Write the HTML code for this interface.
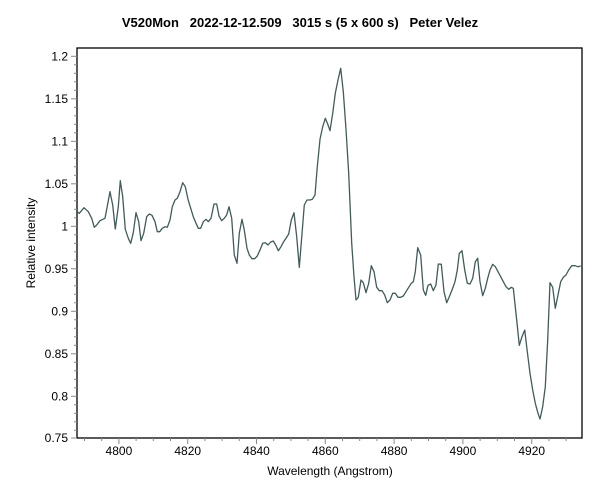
<!DOCTYPE html>
<html><head><meta charset="utf-8"><style>
html,body{margin:0;padding:0;background:#fff;}
svg{display:block;font-family:"Liberation Sans",sans-serif;}
</style></head><body>
<svg id="s" width="600" height="500" viewBox="0 0 600 500">
<rect width="600" height="500" fill="#fff"/>
<text x="300" y="27" text-anchor="middle" font-size="13" font-weight="bold" xml:space="preserve">V520Mon   2022-12-12.509   3015 s (5 x 600 s)   Peter Velez</text>
<rect x="77" y="48" width="505" height="390" fill="none" stroke="#000" stroke-width="1.3"/>
<text x="330" y="475" text-anchor="middle" font-size="12">Wavelength (Angstrom)</text>
<text transform="translate(35,243) rotate(-90)" text-anchor="middle" font-size="12">Relative intensity</text>
<g id="ax"></g>
<polyline id="pl" fill="none" stroke="#445a5a" stroke-width="1.3" stroke-linejoin="round"/>
</svg>
<script>
var ax=document.getElementById('ax'),h='';
for(var i=0;i<=45;i++){var v=0.75+i*0.01;var y=226.3-(v-1)*850;if(y<48||y>440)continue;if(y>438)y=438;var maj=(i%5==0);
h+='<line x1="77" x2="'+(maj?71:74)+'" y1="'+y.toFixed(1)+'" y2="'+y.toFixed(1)+'" stroke="#888"/>';
if(maj){var t=(Math.round(v*100)/100).toString();h+='<text x="68" y="'+(y+4).toFixed(1)+'" text-anchor="end" font-size="12">'+t+'</text>';}}
for(var w=4790;w<=4930;w+=5){var x=118.9+(w-4800)*3.44;var maj=(w%20==0);
h+='<line y1="438" y2="'+(maj?444:441)+'" x1="'+x.toFixed(1)+'" x2="'+x.toFixed(1)+'" stroke="#888"/>';
if(maj)h+='<text x="'+x.toFixed(1)+'" y="455" text-anchor="middle" font-size="12">'+w+'</text>';}
ax.innerHTML=h;
var a=[51,545,58,550,72,533,85,545,95,565,103,592,110,585,120,572,135,565,150,485,158,525,166,597,175,530,181,452,188,500,196,598,205,625,212,640,220,608,228,548,236,575,243,632,251,610,260,560,268,552,276,556,285,575,292,605,299,605,307,595,315,590,322,592,330,570,337,530,345,510,352,505,360,485,368,458,376,470,384,508,392,535,400,560,408,580,415,595,422,595,430,575,438,568,445,575,453,565,462,522,470,522,477,558,485,572,493,565,500,555,507,530,515,565,523,675,531,700,538,610,546,568,553,600,561,655,568,675,576,686,584,686,592,678,600,660,608,640,616,638,624,645,632,636,640,633,647,645,655,662,663,650,670,637,678,625,686,612,694,570,702,548,710,620,718,712,727,600,733,525,741,510,750,510,757,508,765,495,772,410,780,328,788,290,796,265,803,282,810,302,818,250,826,190,834,150,842,115,850,185,858,298,866,430];
var b=[155,130,162,230,168,300,175,292,183,240,190,248,198,278,206,250,214,197,222,215,230,262,238,272,246,272,254,285,262,308,270,300,278,280,286,280,294,292,302,292,310,288,318,275,326,262,334,250,340,245,346,215,353,143,362,165,370,270,377,286,384,256,392,252,400,272,408,255,415,192,424,193,432,275,440,308,448,290,456,270,465,245,472,210,478,160,486,152,494,210,502,250,510,252,518,235,526,185,533,175,540,245,548,287,556,265,563,235,570,210,578,193,586,200,594,215,602,230,610,245,618,260,626,268,634,262,640,265,650,360,658,436,666,410,674,390,682,455,690,520,698,570,706,610,714,640,720,657,728,620,736,560,743,420,750,248,758,262,766,325,774,285,782,245,790,232,798,225,806,210,815,197,825,197,833,200,842,198];
var p=[];
for(var i=0;i<a.length;i+=2)p.push((60+a[i]/3).toFixed(1)+','+(30+a[i+1]/3).toFixed(1));
for(var i=0;i<b.length;i+=2)p.push((300+b[i]/3).toFixed(1)+','+(200+b[i+1]/3).toFixed(1));
document.getElementById('pl').setAttribute('points',p.join(' '));
</script>
</body></html>
